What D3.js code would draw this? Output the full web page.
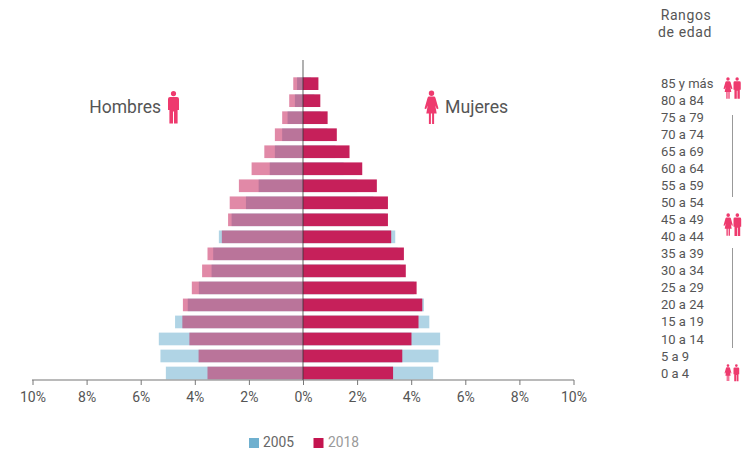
<!DOCTYPE html>
<html><head><meta charset="utf-8">
<script src="https://cdn.jsdelivr.net/npm/d3@7/dist/d3.min.js"></script>
<style>html,body{margin:0;padding:0;background:#fff}svg{display:block}text{font-family:Roboto,sans-serif}</style>
</head><body><svg id="c" width="742" height="451"></svg>
<script>
const ageGroups = ["85 y más","80 a 84","75 a 79","70 a 74","65 a 69","60 a 64","55 a 59","50 a 54","45 a 49","40 a 44","35 a 39","30 a 34","25 a 29","20 a 24","15 a 19","10 a 14","5 a 9","0 a 4"];
const men2005 = [.22,.30,.57,.77,1.04,1.23,1.64,2.11,2.64,3.11,3.32,3.38,3.85,4.26,4.73,5.33,5.27,5.07];
const men2018 = [.36,.51,.77,1.04,1.43,1.90,2.37,2.71,2.77,3.00,3.53,3.73,4.11,4.44,4.46,4.20,3.86,3.53];
const women2005 = [.30,.42,.65,.90,1.20,1.50,2.00,2.60,3.05,3.41,3.50,3.60,4.10,4.47,4.67,5.07,5.01,4.81];
const women2018 = [.57,.64,.91,1.25,1.72,2.19,2.73,3.14,3.14,3.26,3.73,3.80,4.20,4.41,4.27,4.01,3.67,3.33];
const ticks = [-10,-8,-6,-4,-2,0,2,4,6,8,10];
const legendYears = ["2005","2018"];

const BLUE="#6fb0cf", RED="#c6205a", LEGRED="#c4144f", ICON="#ee3a6e", TXT="#555";
const svg=d3.select("#c");
const x=d3.scaleLinear().domain([-10,10]).range([32.5,573.5]);
const y=d3.scaleBand().domain(ageGroups).range([75.15,381.5]).paddingInner(.255).paddingOuter(.127);
const rows=ageGroups.map((a,i)=>({a,m05:men2005[i],m18:men2018[i],w05:women2005[i],w18:women2018[i]}));
function bars(cls,x0,x1,fill,op){
  svg.append("g").attr("class",cls).selectAll("rect").data(rows).join("rect")
    .attr("x",d=>Math.min(x(x0(d)),x(x1(d)))).attr("width",d=>Math.abs(x(x1(d))-x(x0(d))))
    .attr("y",d=>y(d.a)).attr("height",y.bandwidth()).attr("fill",fill).attr("fill-opacity",op);
}
bars("m05",d=>0,d=>-d.m05,BLUE,.55);
bars("m18",d=>0,d=>-d.m18,LEGRED,.5);
bars("w05",d=>0,d=>d.w05,BLUE,.55);
bars("w18",d=>0,d=>d.w18,RED,1);

const ax=svg.append("g").attr("transform","translate(0,380)")
  .call(d3.axisBottom(x).tickValues(ticks).tickSize(5).tickPadding(7).tickFormat(d=>Math.abs(d)+"%"));
ax.selectAll("path").attr("d","M32,0H574").attr("stroke","#777").attr("stroke-width",1.2);
ax.selectAll("line").attr("stroke","#777");
ax.selectAll("text").attr("fill",TXT).style("font-size","14px").style("font-family","Roboto,sans-serif");
svg.append("line").attr("x1",x(0)).attr("x2",x(0)).attr("y1",60).attr("y2",380)
  .attr("stroke","#333").attr("stroke-opacity",.55).attr("stroke-width",1.4);

const manPath="M5.5 0.5a2.6 2.6 0 1 1 0 5.2a2.6 2.6 0 1 1 0-5.2ZM2 6.6H9Q11 6.6 11 8.6V19.5H9.6V33H6V21H5V33H1.4V19.5H0V8.6Q0 6.6 2 6.6Z";
const womanPath="M7 0.5a2.7 2.7 0 1 1 0 5.4a2.7 2.7 0 1 1 0-5.4ZM4.6 6.6H9.4Q10.6 6.6 11 8L14 18.5L12.4 19.2L10.8 15.5L12.2 23.5H9.6V34H7.6V23.5H6.4V34H4.4V23.5H1.8L3.2 15.5L1.6 19.2L0 18.5L3 8Q3.4 6.6 4.6 6.6Z";
function icon(p,tx,ty,s){svg.append("path").attr("d",p).attr("fill",ICON).attr("transform",`translate(${tx},${ty}) scale(${s})`);}
icon(manPath,168,90.5,1);
icon(womanPath,424.5,90,1);
icon(womanPath,723.5,77,.64);icon(manPath,733.5,77,.66);
icon(womanPath,723.5,213,.67);icon(manPath,733.5,213,.7);
icon(womanPath,724.5,364,.5);icon(manPath,733.5,364,.52);

svg.append("text").text("Hombres").attr("x",161).attr("y",112.5).attr("text-anchor","end").attr("fill",TXT).style("font-size","17.5px");
svg.append("text").text("Mujeres").attr("x",445).attr("y",112.5).attr("fill",TXT).style("font-size","17.7px");

svg.append("text").text("Rangos").attr("x",686).attr("y",20).attr("text-anchor","middle").attr("fill",TXT).style("font-size","14px").style("letter-spacing","0.6px");
svg.append("text").text("de edad").attr("x",685).attr("y",37).attr("text-anchor","middle").attr("fill",TXT).style("font-size","14px").style("letter-spacing","0.6px");
svg.append("g").selectAll("text").data(ageGroups).join("text").text(d=>d)
  .attr("x",661).attr("y",d=>y(d)+y.bandwidth()/2).attr("dy","0.35em").attr("fill",TXT).style("font-size","13px");
[[115,197],[248,348]].forEach(([a,b])=>svg.append("line").attr("x1",732.5).attr("x2",732.5).attr("y1",a).attr("y2",b).attr("stroke","#999").attr("stroke-width",1));

const leg=[{t:legendYears[0],c:BLUE,sx:249,tx:263,f:"#666"},{t:legendYears[1],c:LEGRED,sx:313.5,tx:328,f:"#999"}];
leg.forEach(l=>{
  svg.append("rect").attr("x",l.sx).attr("y",438).attr("width",10).attr("height",10).attr("fill",l.c);
  svg.append("text").text(l.t).attr("x",l.tx).attr("y",447.3).attr("fill",l.f).style("font-size","15px").attr("textLength",31).attr("lengthAdjust","spacingAndGlyphs");
});
</script></body></html>
